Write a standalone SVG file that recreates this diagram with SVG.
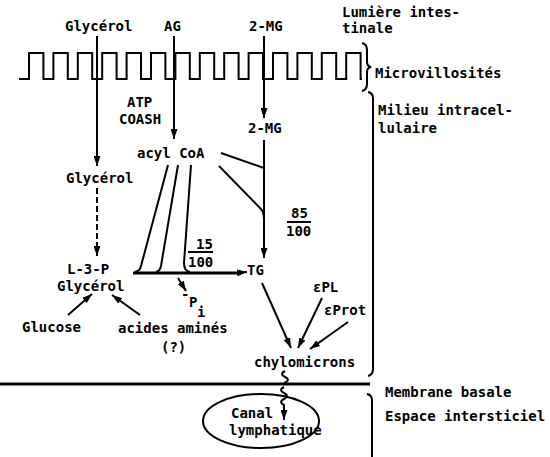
<svg xmlns="http://www.w3.org/2000/svg" width="550" height="457" viewBox="0 0 550 457">
<defs>
<marker id="ah" markerUnits="userSpaceOnUse" markerWidth="10" markerHeight="7" refX="10" refY="3.5" orient="auto">
<path d="M0,0 L10,3.5 L0,7 z" fill="#000"/>
</marker>
</defs>
<style>
text{font-family:"DejaVu Sans Mono","Liberation Mono",monospace;font-weight:bold;font-size:14px;fill:#000}
.ln{stroke:#000;stroke-width:2;fill:none}
.thk{stroke:#000;stroke-width:3;fill:none}
.ar{stroke:#000;stroke-width:2;fill:none;marker-end:url(#ah)}
.dash{stroke:#000;stroke-width:2;fill:none;stroke-dasharray:6 3;marker-end:url(#ah)}
</style>
<rect width="550" height="457" fill="#fff"/>

<g id="microvilli">
<path class="ln" stroke-width="2.5" d="M19,79 H29 V53 H43.4 V79 H53.4 V53 H67.8 V79 H77.8 V53 H92.2 V79 H102.2 V53 H116.6 V79 H126.6 V53 H141 V79 H151 V53 H165.4 V79 H175.4 V53 H189.8 V79 H199.8 V53 H214.2 V79 H224.2 V53 H238.6 V79 H248.6 V53 H263 V79 H273 V53 H287.4 V79 H297.4 V53 H311.8 V79 H321.8 V53 H336.2 V79 H346.2 V53 H360.6 V79 H362"/>
</g>

<g id="braces">
<path class="ln" d="M362,43 Q367,44 367,50 V62 Q367,66 371,67 Q367,68 367,72 V84 Q367,90 362,91"/>
<path class="ln" d="M368,92 Q373,93 373,98 V369 Q373,375 368,376"/>
<path class="ln" d="M367,394 Q372,395 372,400 V457"/>
</g>

<g id="membrane">
<line class="thk" x1="0" y1="384" x2="370" y2="384"/>
</g>

<g id="labels-right">
<text x="342" y="17">Lumière intes-</text>
<text x="342" y="33">tinale</text>
<text x="375" y="78">Microvillosités</text>
<text x="378" y="115">Milieu intracel-</text>
<text x="378" y="133">lulaire</text>
<text x="385" y="397">Membrane basale</text>
<text x="385" y="421">Espace intersticiel</text>
</g>

<g id="n-glycerol-top"><text x="65" y="31">Glycérol</text></g>
<g id="n-ag"><text x="164" y="31">AG</text></g>
<g id="n-2mg-top"><text x="249" y="31">2-MG</text></g>
<g id="n-atp"><text x="127" y="107">ATP</text><text x="119" y="124">COASH</text></g>
<g id="n-acylcoa"><text x="137" y="158">acyl CoA</text></g>
<g id="n-2mg"><text x="248" y="133">2-MG</text></g>
<g id="n-glycerol"><text x="66" y="183">Glycérol</text></g>
<g id="n-85"><text x="291" y="218">85</text><line class="ln" x1="287" y1="222" x2="311" y2="222" stroke-width="1.5"/><text x="286" y="236">100</text></g>
<g id="n-15"><text x="196" y="249">15</text><line class="ln" x1="188" y1="252" x2="213" y2="252" stroke-width="1.5"/><text x="188" y="267">100</text></g>
<g id="n-tg"><text x="247" y="275">TG</text></g>
<g id="n-l3p"><text x="67" y="274">L-3-P</text><text x="57" y="291">Glycérol</text></g>
<g id="n-pi"><text x="181" y="299" font-size="11">-</text><text x="189" y="307">P</text><text x="197" y="317" font-size="10">i</text></g>
<g id="n-glucose"><text x="22" y="332">Glucose</text></g>
<g id="n-aa"><text x="118" y="333">acides aminés</text><text x="161" y="352">(?)</text></g>
<g id="n-epl"><text x="313" y="292">εPL</text></g>
<g id="n-eprot"><text x="324" y="315">εProt</text></g>
<g id="n-chylo"><text x="254" y="367">chylomicrons</text></g>
<g id="n-canal">
<ellipse cx="261" cy="421" rx="58" ry="27" class="ln"/>
<text x="231" y="418">Canal</text>
<text x="229" y="435">lymphatique</text>
</g>

<g id="connectors">
<line class="ar" x1="97" y1="36" x2="97" y2="166"/>
<line class="ar" x1="174" y1="36" x2="174" y2="139"/>
<line class="ar" x1="264" y1="36" x2="264" y2="118"/>
<line class="ar" x1="264" y1="140" x2="264" y2="258"/>
<line class="dash" x1="97" y1="188" x2="97" y2="256"/>
<path class="ln" d="M221,153 L264,168"/>
<path class="ln" d="M219,166 L261,209 Q264,213 264,220"/>
<path class="ln" d="M168,165 L141,266 Q140,271 135,272"/>
<path class="ln" d="M178,165 L161,266 Q160,271 156,272"/>
<path class="ln" d="M191,165 L184,263 Q184,271 190,272"/>
<line class="thk" x1="133" y1="273" x2="238" y2="273"/>
<line class="ar" stroke-width="1.5" x1="236" y1="273" x2="247" y2="272"/>
<line class="ar" x1="178" y1="278" x2="186" y2="291"/>
<line class="ar" x1="68" y1="315" x2="92" y2="294"/>
<line class="ar" x1="140" y1="315" x2="112" y2="295"/>
<line class="ar" x1="262" y1="283" x2="291" y2="348"/>
<line class="ar" x1="322" y1="298" x2="298" y2="348"/>
<line class="ar" x1="348" y1="322" x2="310" y2="349"/>
<path class="ln" d="M285,371 c-4,2 -4,4 0,6 c4,2 4,4 -1,6"/>
<path class="ar" d="M284,387 c-4,2 -4,4 0,6 c4,2 4,4 0,6 c-4,2 -4,4 0,6 L284,420"/>
</g>
</svg>
